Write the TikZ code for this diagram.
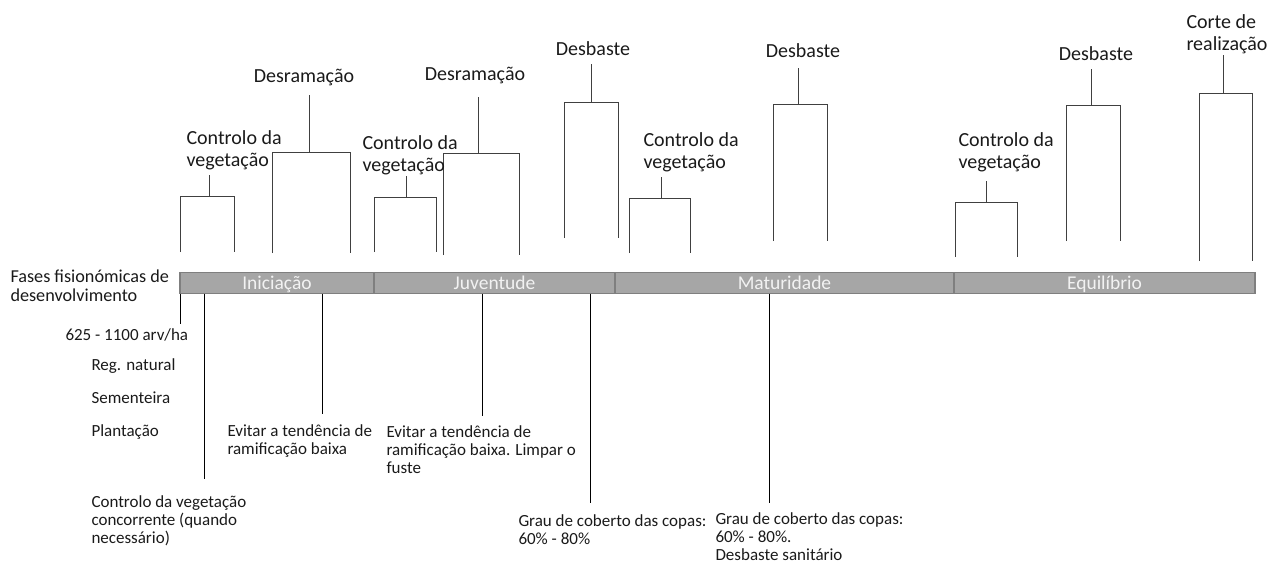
\documentclass[tikz,border=0pt]{standalone}
\usepackage{fontspec}
\setmainfont{Carlito}
\definecolor{faseFill}{HTML}{A6A6A6}
\definecolor{faseLine}{HTML}{7F7F7F}
\definecolor{ramo}{HTML}{404040}
\definecolor{texto}{HTML}{1A1A1A}

\begin{document}
\begin{tikzpicture}[x=1pt, y=-1pt, line width=1pt,
	topo/.style={font=\fontsize{20}{22}\selectfont, text=texto, inner sep=0, align=left},
	baixo/.style={font=\fontsize{17}{18}\selectfont, text=texto, inner sep=0, align=left, anchor=north west},
	fase/.style={draw=faseLine, fill=faseFill, line width=1.3pt},
	fasetxt/.style={font=\fontsize{19.5}{22}\selectfont, text=white!95!black, inner sep=0, anchor=base}]
	\useasboundingbox (0,0) rectangle (1282,565);
	% barra das fases
	\foreach \a / \b / \nome / \txt in {180/374/ini/Iniciação, 374/615/juv/Juventude, 615/954/mat/Maturidade, 954/1255/equ/Equilíbrio} {
		\draw[fase] (\a, 272.5) rectangle (\b, 293.5);
		\node[fasetxt] (\nome) at ({(\a+\b)/2}, 289) {\txt};
	}
	\node[baixo, font=\fontsize{18.2}{19.5}\selectfont] (fases) at (10, 269) {Fases fisionómicas de\\desenvolvimento};
	% chavetas das operações
	\foreach \xl / \xr / \xs / \yt / \yb / \ys in {180/234/209/196/252/175, 272/350/309/152/253/95, 374/436/406/197/252/176, 443/519/478/153/255/97, 564/618/591/102/238/64, 629/690/661/198/253/177, 773/827/798/104/241/68, 955/1017/986/202/257/181, 1066/1120/1091/105/241/69, 1199/1252/1223/93/261/55} {
		\draw[ramo] (\xl, \yb) |- (\xr, \yt) -- (\xr, \yb);
		\draw[ramo] (\xs, \yt) -- (\xs, \ys);
	}
	\node[topo, anchor=north west] (ctrl1) at (186, 130) {Controlo da\\vegetação};
	\node[topo, anchor=north] (desr1) at (304, 69) {Desramação};
	\node[topo, anchor=north west] (ctrl2) at (362, 135) {Controlo da\\vegetação};
	\node[topo, anchor=north] (desr2) at (475, 67) {Desramação};
	\node[topo, anchor=north] (desb1) at (593, 41) {Desbaste};
	\node[topo, anchor=north west] (ctrl3) at (643, 132) {Controlo da\\vegetação};
	\node[topo, anchor=north] (desb2) at (803, 43) {Desbaste};
	\node[topo, anchor=north west] (ctrl4) at (958, 132) {Controlo da\\vegetação};
	\node[topo, anchor=north] (desb3) at (1096, 46) {Desbaste};
	\node[topo, anchor=north west] (corte) at (1186, 14) {Corte de\\realização};
	% notas por baixo da barra
	\foreach \x / \y in {180/324, 204/479, 322/414, 482/416, 590/503, 769/503} {
		\draw[black] (\x, 293.5) -- (\x, \y);
	}
	\node[baixo] (dens) at (65, 328) {625 - 1100 arv/ha};
	\node[baixo] (reg) at (91, 358) {Reg. natural};
	\node[baixo] (sem) at (91, 391) {Sementeira};
	\node[baixo] (plant) at (91, 424) {Plantação};
	\node[baixo] (conc) at (91, 495) {Controlo da vegetação\\concorrente (quando\\necessário)};
	\node[baixo] (evit1) at (227, 424) {Evitar a tendência de\\ramificação baixa};
	\node[baixo] (evit2) at (386, 425) {Evitar a tendência de\\ramificação baixa. Limpar o\\fuste};
	\node[baixo] (grau1) at (518, 514) {Grau de coberto das copas:\\60\% - 80\%};
	\node[baixo] (grau2) at (715, 512) {Grau de coberto das copas:\\60\% - 80\%.\\Desbaste sanitário};
\end{tikzpicture}
\end{document}
